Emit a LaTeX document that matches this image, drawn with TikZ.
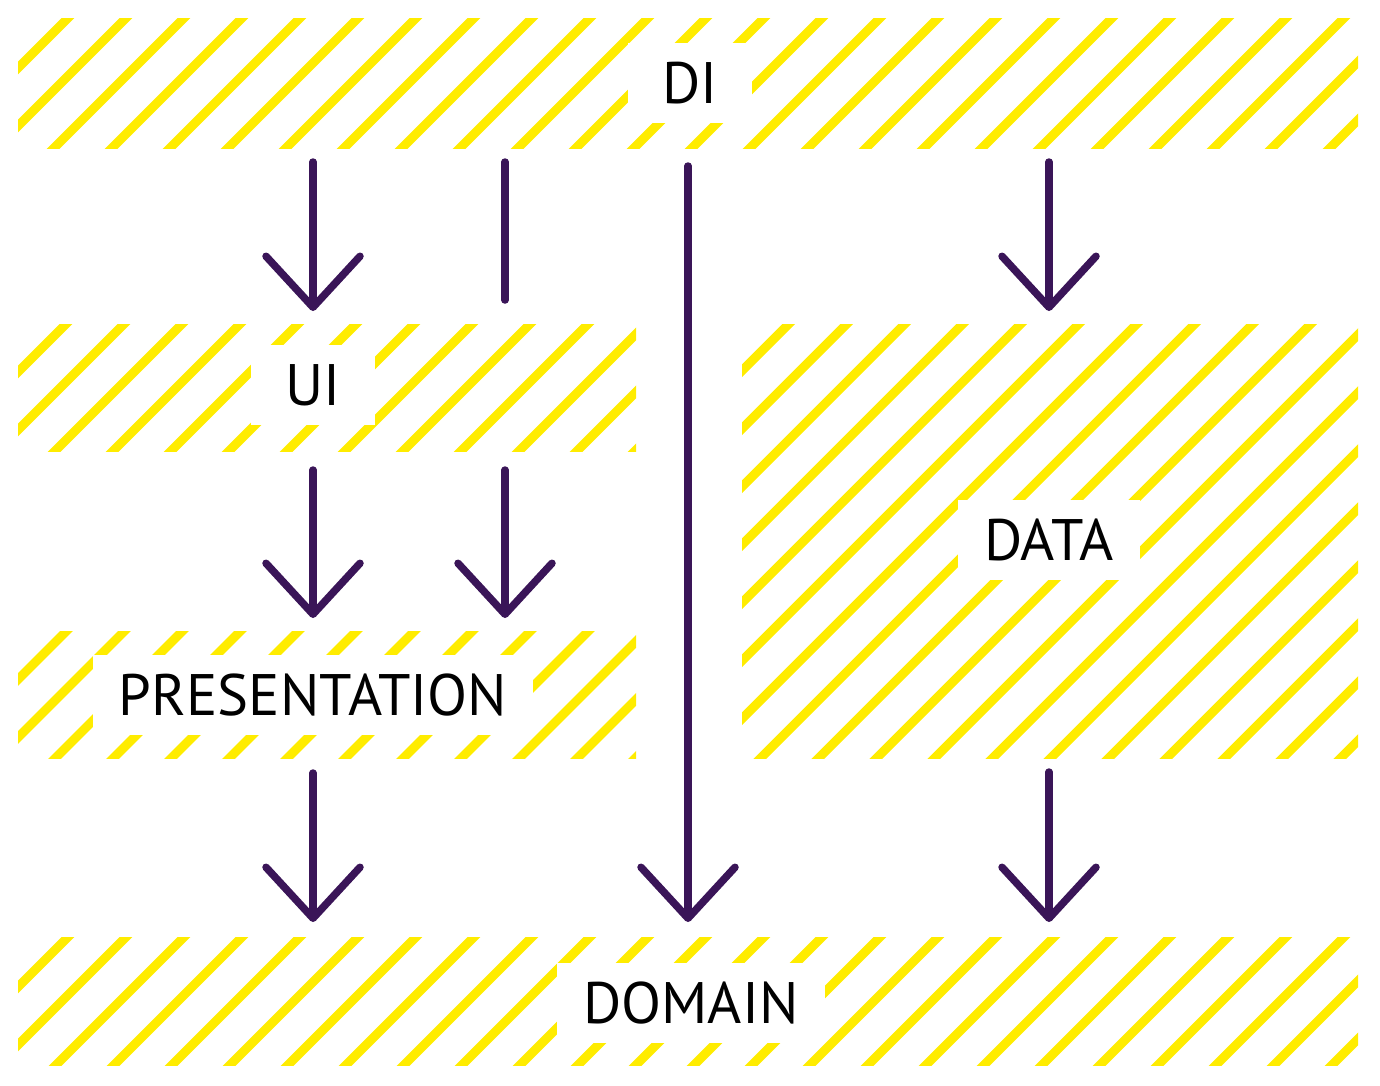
\documentclass[tikz,border=0pt]{standalone}
\usepackage{fontspec}
\setmainfont{PT Sans}
\usetikzlibrary{arrows.meta,fit}
\definecolor{hatchc}{HTML}{FFEC00}
\definecolor{arrowc}{HTML}{3A1558}
\tikzset{
  hatchline/.style={draw=hatchc, line width=9pt},
  bandbox/.style={inner sep=0pt, outer sep=0pt},
  lbl/.style={fill=white, inner xsep=26pt, inner ysep=0pt, minimum width=124pt,
    minimum height=80pt, text height=40pt, text depth=0pt,
    font=\fontsize{58.5}{60}\selectfont},
  conn/.style={draw=arrowc, line width=7.5pt, line cap=round},
  arr/.style={conn, -{Straight Barb[length=51pt,width=94pt,round]}}
}
\newcommand\hatchband[5]{%
  \begin{scope}
    \clip (#1,#2) rectangle (#3,#4);
    \foreach \k in {-10,...,32} {
      \draw[hatchline] ({#1+#5+58*\k+30},{#2-30}) -- ++(-520,520);
    }
  \end{scope}}
\begin{document}
\begin{tikzpicture}[x=1pt,y=-1pt]
\useasboundingbox (0,0) rectangle (1380,1085);
% bands
\node[bandbox, fit={(18,18) (1358,148)}] (di) {};
\node[bandbox, fit={(18,324) (636,451)}] (ui) {};
\node[bandbox, fit={(18,631) (636,758)}] (pres) {};
\node[bandbox, fit={(742,324) (1358,758)}] (data) {};
\node[bandbox, fit={(18,937) (1358,1065)}] (dom) {};
\hatchband{18}{18}{1358}{148}{50}
\hatchband{18}{324}{636}{451}{48}
\hatchband{18}{631}{636}{758}{48.5}
\hatchband{742}{324}{1358}{758}{46.7}
\hatchband{18}{937}{1358}{1065}{50}
% labels
\node[lbl] (diL) at (690,83) {DI};
\node[lbl] (uiL) at (313,385) {UI};
\node[lbl] (presL) at (313,695) {PRESENTATION};
\node[lbl] (dataL) at (1049,540) {DATA};
\node[lbl] (domL) at (691,1003) {DOMAIN};
% helper coordinates
\coordinate (c2) at (505,0);
\coordinate (c3) at (688,0);
% connectors
\draw[arr] ([yshift=-14pt]di.south -| uiL) -- ([yshift=13pt]ui.north -| uiL);
\draw[conn] ([yshift=-14pt]di.south -| c2) -- ([yshift=24pt]ui.north -| c2);
\draw[arr] ([yshift=-18pt]di.south -| c3) -- ([yshift=15pt]dom.north -| c3);
\draw[arr] ([yshift=-14pt]di.south -| dataL) -- ([yshift=13pt]data.north -| dataL);
\draw[arr] ([yshift=-19pt]ui.south -| uiL) -- ([yshift=13pt]pres.north -| uiL);
\draw[arr] ([yshift=-19pt]ui.south -| c2) -- ([yshift=13pt]pres.north -| c2);
\draw[arr] ([yshift=-15pt]pres.south -| presL) -- ([yshift=15pt]dom.north -| presL);
\draw[arr] ([yshift=-14pt]data.south -| dataL) -- ([yshift=15pt]dom.north -| dataL);
\end{tikzpicture}
\end{document}
